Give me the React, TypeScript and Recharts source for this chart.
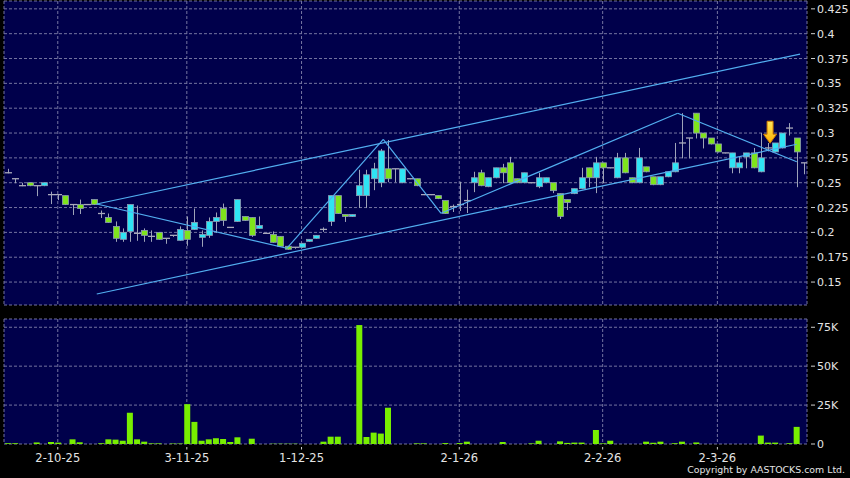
import { ComposedChart, Bar, XAxis, YAxis, CartesianGrid, ReferenceLine, ReferenceDot } from "recharts";

// daily OHLC (oldest first)
const open = [
  0.26, 0.254, 0.247, 0.25, 0.247, 0.247, 0.238, 0.238, 0.237, 0.228,
  0.228, 0.228, 0.233, 0.219, 0.215, 0.206, 0.193, 0.201, 0.199, 0.202,
  0.196, 0.2, 0.194, 0.197, 0.192, 0.202, 0.203, 0.195, 0.197, 0.211,
  0.224, 0.205, 0.211, 0.216, 0.215, 0.204, 0.199, 0.198, 0.196, 0.186,
  0.185, 0.185, 0.191, 0.194, 0.203, 0.211, 0.237, 0.218, 0.216, 0.237,
  0.237, 0.254, 0.25, 0.264, 0.264, 0.25, 0.254, 0.254, 0.238, 0.238,
  0.237, 0.232, 0.226, 0.228, 0.232, 0.25, 0.26, 0.246, 0.255, 0.265,
  0.27, 0.254, 0.25, 0.25, 0.246, 0.25, 0.25, 0.239, 0.233, 0.239,
  0.244, 0.265, 0.255, 0.27, 0.265, 0.255, 0.275, 0.255, 0.25, 0.266,
  0.256, 0.248, 0.256, 0.261, 0.29, 0.295, 0.32, 0.3, 0.295, 0.289,
  0.28, 0.265, 0.265, 0.276, 0.28, 0.261, 0.285, 0.281, 0.285, 0.305,
  0.295, 0.27,
];
const high = [
  0.264, 0.254, 0.25, 0.25, 0.247, 0.25, 0.241, 0.238, 0.237, 0.228,
  0.233, 0.228, 0.233, 0.222, 0.219, 0.211, 0.204, 0.228, 0.227, 0.204,
  0.202, 0.2, 0.194, 0.197, 0.206, 0.216, 0.224, 0.202, 0.215, 0.22,
  0.229, 0.205, 0.233, 0.216, 0.215, 0.216, 0.199, 0.201, 0.196, 0.186,
  0.185, 0.189, 0.193, 0.197, 0.205, 0.237, 0.237, 0.218, 0.218, 0.263,
  0.263, 0.27, 0.284, 0.293, 0.264, 0.264, 0.254, 0.254, 0.238, 0.238,
  0.237, 0.232, 0.228, 0.251, 0.243, 0.261, 0.263, 0.255, 0.265, 0.269,
  0.276, 0.254, 0.26, 0.25, 0.26, 0.255, 0.25, 0.239, 0.233, 0.244,
  0.265, 0.265, 0.276, 0.27, 0.265, 0.28, 0.28, 0.255, 0.285, 0.266,
  0.256, 0.256, 0.261, 0.29, 0.32, 0.295, 0.32, 0.3, 0.295, 0.289,
  0.28, 0.28, 0.276, 0.28, 0.285, 0.3, 0.29, 0.29, 0.3, 0.31,
  0.295, 0.27,
];
const low = [
  0.26, 0.25, 0.247, 0.247, 0.237, 0.247, 0.229, 0.233, 0.228, 0.218,
  0.219, 0.228, 0.228, 0.215, 0.21, 0.191, 0.191, 0.191, 0.192, 0.191,
  0.191, 0.193, 0.189, 0.196, 0.192, 0.187, 0.203, 0.186, 0.195, 0.2,
  0.207, 0.205, 0.211, 0.212, 0.196, 0.204, 0.199, 0.19, 0.186, 0.183,
  0.184, 0.185, 0.191, 0.194, 0.201, 0.207, 0.219, 0.211, 0.216, 0.225,
  0.225, 0.243, 0.246, 0.251, 0.251, 0.25, 0.254, 0.247, 0.238, 0.238,
  0.234, 0.219, 0.221, 0.222, 0.22, 0.241, 0.247, 0.246, 0.255, 0.25,
  0.25, 0.25, 0.25, 0.25, 0.245, 0.25, 0.24, 0.214, 0.223, 0.239,
  0.244, 0.246, 0.24, 0.25, 0.265, 0.255, 0.26, 0.25, 0.25, 0.261,
  0.248, 0.248, 0.256, 0.261, 0.275, 0.275, 0.295, 0.285, 0.289, 0.281,
  0.28, 0.26, 0.26, 0.265, 0.265, 0.261, 0.282, 0.281, 0.285, 0.298,
  0.246, 0.259,
];
const close = [
  0.26, 0.254, 0.247, 0.247, 0.247, 0.25, 0.238, 0.238, 0.228, 0.228,
  0.224, 0.228, 0.228, 0.219, 0.21, 0.194, 0.2, 0.228, 0.199, 0.197,
  0.196, 0.193, 0.194, 0.197, 0.203, 0.193, 0.21, 0.198, 0.211, 0.215,
  0.212, 0.205, 0.233, 0.212, 0.197, 0.207, 0.199, 0.19, 0.186, 0.183,
  0.185, 0.189, 0.193, 0.197, 0.203, 0.237, 0.219, 0.216, 0.218, 0.247,
  0.258, 0.264, 0.282, 0.254, 0.264, 0.264, 0.254, 0.247, 0.238, 0.238,
  0.234, 0.219, 0.226, 0.228, 0.232, 0.255, 0.247, 0.255, 0.265, 0.26,
  0.25, 0.25, 0.26, 0.25, 0.255, 0.255, 0.242, 0.216, 0.23, 0.244,
  0.255, 0.255, 0.27, 0.265, 0.265, 0.275, 0.26, 0.25, 0.275, 0.261,
  0.248, 0.256, 0.261, 0.27, 0.29, 0.295, 0.3, 0.295, 0.289, 0.281,
  0.28, 0.28, 0.27, 0.28, 0.265, 0.275, 0.285, 0.29, 0.3, 0.305,
  0.281, 0.27,
];
// volume in thousands of shares
const volumeK = [
  0.5, 0.5, 0, 0, 1.0, 0, 1.3, 0.9, 0, 3.0,
  1.1, 0, 0, 0.5, 3.0, 2.8, 2.1, 20, 3.0, 1.5,
  0.4, 0.4, 0, 0.3, 0.3, 25.6, 14.2, 2.1, 3.0, 3.7,
  3.2, 1.3, 4.3, 0, 3.4, 0, 0, 0.2, 0.2, 0.2,
  0.2, 0, 0, 0, 1.5, 4.7, 4.7, 0, 0, 76.4,
  4.5, 7.3, 6.7, 23.3, 0, 0, 0, 0.4, 0.4, 0,
  0, 0.6, 0, 0.6, 1.5, 0, 0, 0, 0, 1.3,
  0, 0, 0, 0.4, 2.1, 0, 0, 1.7, 0.7, 0.9,
  0.9, 0, 9.0, 0.4, 2.1, 0, 0, 0, 0, 1.5,
  0.8, 1.5, 0, 0.5, 1.5, 0, 1.0, 0, 0, 0,
  0, 0, 0, 0, 0, 5.4, 0.9, 0.9, 0, 0.5,
  11, 0,
];

const tickIdx = [7, 25, 41, 63, 83, 99];
const tickLabels = ["2-10-25", "3-11-25", "1-12-25", "2-1-26", "2-2-26", "2-3-26"];
const priceTicks = [0.15, 0.175, 0.2, 0.225, 0.25, 0.275, 0.3, 0.325, 0.35, 0.375, 0.4, 0.425];
const volTicks = [0, 25000, 50000, 75000];

// trend lines as [candle index, price]
const zigzag = [
  [12.44, 0.2286],
  [38.94, 0.184],
  [52.4, 0.2937],
  [60.46, 0.2192],
  [93.47, 0.3199],
  [110.07, 0.2711],
];
const upperChannel = [[12.44, 0.2286], [110.53, 0.3795]];
const lowerChannel = [[12.44, 0.138], [110.07, 0.2887]];
const arrowAt = { i: 106.35, price: 0.2897 };

const P_MIN = 0.1269;
const P_MAX = 0.4329;
const V_MAX = 80300;

const BG = "#00004b";
const GRID = "#7474a0";
const CYAN = "#2fe4f4";
const GREEN = "#7fe41c";
const LINE = "#52aef0";
const FONT = "DejaVu Sans";

const data = open.map((o, i) => ({
  i,
  o,
  h: high[i],
  l: low[i],
  c: close[i],
  v: volumeK[i] * 1000,
  span: [P_MIN, high[i]],
}));

function Candle(props: any) {
  const { x, y, width, height, payload } = props;
  if (!payload) return null;
  const { o, h, l, c } = payload;
  const top = Math.min(y, y + height);
  const bottom = Math.max(y, y + height);
  const k = (bottom - top) / (h - P_MIN);
  const py = (v: number) => top + (h - v) * k;
  const cx = Math.round(x + width / 2) + 0.5;
  const wick = <line x1={cx} x2={cx} y1={py(h)} y2={py(l) + 0.5} stroke="#9ea3b8" strokeWidth={1} />;
  if (o === c) {
    return (
      <g>
        {wick}
        <line x1={cx - 3.5} x2={cx + 3.5} y1={py(o)} y2={py(o)} stroke="#a9a9bb" strokeWidth={1.3} />
      </g>
    );
  }
  const yTop = py(Math.max(o, c));
  const yBot = py(Math.min(o, c));
  return (
    <g>
      {wick}
      <rect
        x={cx - 3}
        y={yTop}
        width={6}
        height={Math.max(1.5, yBot - yTop)}
        fill={c > o ? CYAN : GREEN}
        stroke="#8e9cb4"
        strokeWidth={0.8}
      />
    </g>
  );
}

function YTick(props: any) {
  const { x, y, payload, fmt } = props;
  return (
    <g>
      <line x1={x + 4} x2={x + 8} y1={y} y2={y} stroke="#cfcfcf" strokeWidth={1} />
      <text x={x + 10} y={y + 4} fill="#e4e4e4" fontSize={11} fontFamily={FONT}>
        {fmt(payload.value)}
      </text>
    </g>
  );
}

function DateTick(props: any) {
  const { x, y, payload } = props;
  const label = tickLabels[tickIdx.indexOf(payload.value)];
  return (
    <g>
      <line x1={x} x2={x} y1={y + 3} y2={y + 5.5} stroke="#cfcfcf" strokeWidth={1} />
      <text x={x} y={y + 18} textAnchor="middle" fill="#e4e4e4" fontSize={11.5} fontFamily={FONT}>
        {label}
      </text>
    </g>
  );
}

function DownArrow(props: any) {
  const { cx, cy } = props;
  const pts = [
    [cx, cy],
    [cx - 6.5, cy - 9],
    [cx - 3, cy - 9],
    [cx - 3, cy - 22],
    [cx + 3, cy - 22],
    [cx + 3, cy - 9],
    [cx + 6.5, cy - 9],
  ]
    .map((p) => p.join(","))
    .join(" ");
  return (
    <g>
      <defs>
        <linearGradient id="arrowFill" x1="0" y1="0" x2="0" y2="1">
          <stop offset="0%" stopColor="#ffe85a" />
          <stop offset="100%" stopColor="#ffb000" />
        </linearGradient>
      </defs>
      <polygon points={pts} fill="url(#arrowFill)" stroke="#d07a00" strokeWidth={1} />
    </g>
  );
}

const seg = (a: number[], b: number[]) => [
  { x: a[0], y: a[1] },
  { x: b[0], y: b[1] },
];

export default function App() {
  const priceFmt = (v: number) => String(v);
  const volFmt = (v: number) => (v === 0 ? "0" : `${v / 1000}K`);
  return (
    <div style={{ position: "absolute", left: 0, top: 0, width: 850, height: 478, background: "#000", overflow: "hidden" }}>
      <div style={{ position: "absolute", left: 0, top: 0 }}>
        <ComposedChart width={850} height={306} data={data} margin={{ top: 1, right: 0, bottom: 1, left: 4 }}>
          <CartesianGrid fill={BG} stroke={GRID} strokeDasharray="3 2" />
          <XAxis
            type="number"
            dataKey="i"
            domain={[-0.5, 111.5]}
            ticks={tickIdx}
            interval={0}
            allowDataOverflow
            hide
          />
          <YAxis
            orientation="right"
            width={43}
            domain={[P_MIN, P_MAX]}
            ticks={priceTicks}
            interval={0}
            allowDataOverflow
            axisLine={false}
            tickLine={false}
            tickSize={0}
            tickMargin={0}
            tick={(p: any) => <YTick {...p} fmt={priceFmt} />}
          />
          <Bar dataKey="span" barSize={6} isAnimationActive={false} shape={(p: any) => <Candle {...p} />} />
          <ReferenceLine segment={seg(upperChannel[0], upperChannel[1])} stroke={LINE} strokeWidth={1.2} />
          <ReferenceLine segment={seg(lowerChannel[0], lowerChannel[1])} stroke={LINE} strokeWidth={1.2} />
          {zigzag.slice(1).map((p, n) => (
            <ReferenceLine key={n} segment={seg(zigzag[n], p)} stroke={LINE} strokeWidth={1.2} />
          ))}
          <ReferenceDot x={arrowAt.i} y={arrowAt.price} r={1} shape={(p: any) => <DownArrow {...p} />} />
        </ComposedChart>
      </div>
      <div style={{ position: "absolute", left: 0, top: 310 }}>
        <ComposedChart width={850} height={168} data={data} margin={{ top: 9, right: 0, bottom: 0, left: 4 }}>
          <CartesianGrid fill={BG} stroke={GRID} strokeDasharray="3 2" />
          <XAxis
            type="number"
            dataKey="i"
            domain={[-0.5, 111.5]}
            ticks={tickIdx}
            interval={0}
            allowDataOverflow
            height={34}
            axisLine={false}
            tickLine={false}
            tickSize={0}
            tickMargin={0}
            tick={(p: any) => <DateTick {...p} />}
          />
          <YAxis
            orientation="right"
            width={43}
            domain={[0, V_MAX]}
            ticks={volTicks}
            interval={0}
            allowDataOverflow
            axisLine={false}
            tickLine={false}
            tickSize={0}
            tickMargin={0}
            tick={(p: any) => <YTick {...p} fmt={volFmt} />}
          />
          <Bar dataKey="v" barSize={6} fill="#78ee00" isAnimationActive={false} />
        </ComposedChart>
      </div>
      <div
        style={{
          position: "absolute",
          right: 5,
          top: 464,
          color: "#e4e4e4",
          fontSize: 9.4,
          lineHeight: "12px",
          fontFamily: FONT,
          whiteSpace: "nowrap",
        }}
      >
        Copyright by AASTOCKS.com Ltd.
      </div>
    </div>
  );
}
